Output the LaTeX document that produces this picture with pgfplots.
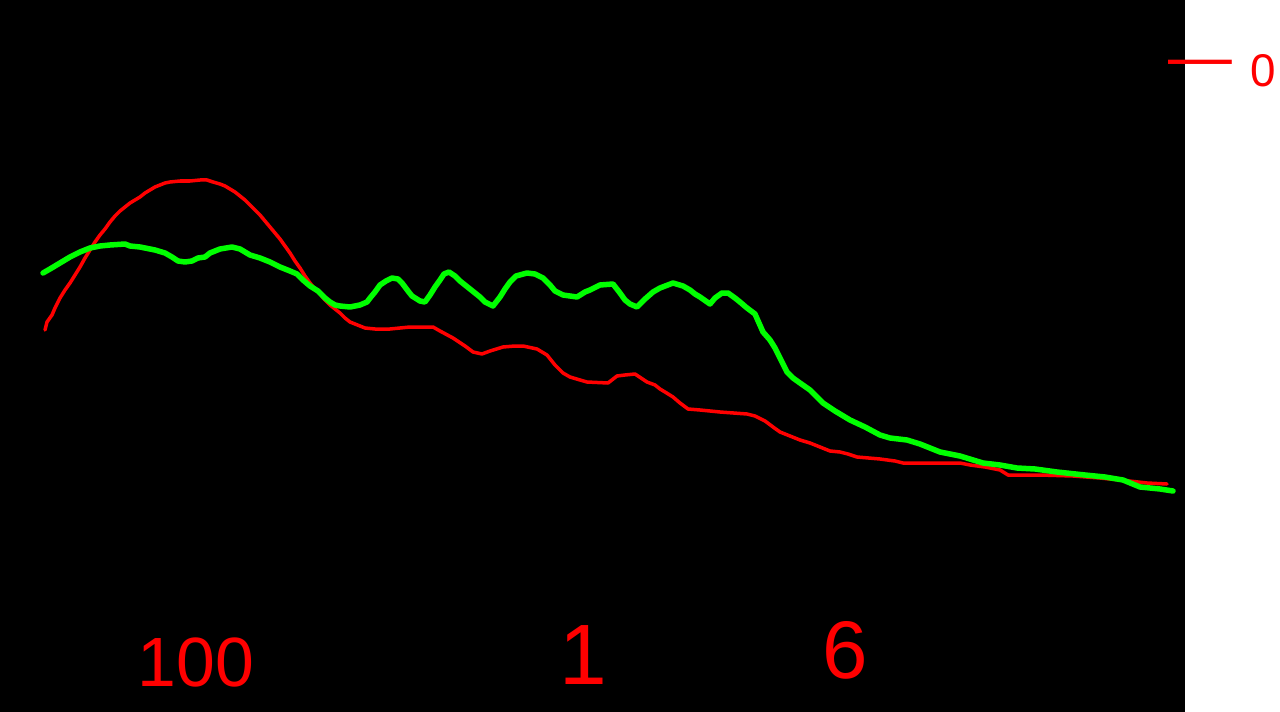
\documentclass[border=0pt]{standalone}
\usepackage{pgfplots}
\pgfplotsset{compat=1.18}
\usepackage{fontspec}
\setmainfont{Liberation Sans}
\definecolor{pen red}{RGB}{255,0,0}
\definecolor{pen green}{RGB}{0,255,0}
\begin{document}
\begin{tikzpicture}
\begin{axis}[width=1280bp,height=712bp,scale only axis,hide axis,
  xmin=0,xmax=1280,ymin=0,ymax=712,y dir=reverse]
% board
\addplot[fill=black,draw=none] coordinates {(0,0)(1185,0)(1185,712)(0,712)} -- cycle;
\addplot[fill=white,draw=none] coordinates {(1185,0)(1280,0)(1280,712)(1185,712)} -- cycle;
% red trace
\addplot[pen red,line width=3.5bp,line join=round,line cap=round] coordinates {
(45,330)(47,322)(52,315)(55,308)(60,298)(65,290)(70,283)(75,275)(80,267)(85,258)
(90,250)(95,242)(100,235)(105,229)(110,222)(115,216)(120,211)(125,207)(130,203)
(135,200)(140,197)(145,193)(150,190)(155,187)(160,185)(165,183)(170,182)(180,181)
(190,181)(200,180)(207,180)(213,182)(220,184)(225,186)(230,189)(235,192)(240,196)
(245,200)(250,205)(255,210)(260,215)(265,221)(270,227)(275,233)(280,239)(285,246)
(290,253)(295,261)(300,268)(305,276)(310,283)(315,289)(320,294)(325,300)(330,305)
(335,309)(340,313)(345,318)(350,322)(355,324)(360,326)(365,328)(375,329)(390,329)
(400,328)(410,327)(420,327)(433,327)(440,331)(453,338)(465,346)(473,352)(482,354)
(490,351)(503,347)(515,346)(523,346)(537,349)(547,355)(555,365)(563,373)(570,377)
(580,380)(587,382)(608,383)(617,376)(625,375)(635,374)(647,382)(655,385)(660,389)
(665,392)(673,397)(680,403)(688,409)(700,410)(720,412)(747,414)(755,416)(765,421)
(773,427)(780,432)(790,436)(800,440)(810,443)(820,447)(830,451)(840,452)(848,454)
(857,457)(880,459)(895,461)(903,463)(920,463)(940,463)(960,463)(970,465)(985,467)
(1000,470)(1008,475)(1040,475)(1073,476)(1100,478)(1120,480)(1147,483)(1167,484)};
% green trace
\addplot[pen green,line width=5.5bp,line join=round,line cap=round] coordinates {
(43,273)(50,269)(60,263)(70,257)(80,252)(90,248)(100,246)(110,245)(125,244)(130,246)
(140,247)(155,250)(165,253)(172,257)(178,261)(185,262)(192,261)(198,258)(205,257)
(210,253)(220,249)(232,247)(240,249)(245,252)(250,255)(260,258)(270,262)(280,267)
(290,271)(297,274)(303,280)(310,286)(318,291)(325,298)(330,302)(335,305)(340,306)
(350,307)(360,305)(367,302)(370,298)(375,292)(380,285)(386,281)(392,278)(398,279)
(402,283)(405,287)(408,291)(412,296)(420,301)(425,302)(430,295)(435,287)(440,280)
(444,274)(449,272)(455,276)(460,281)(470,289)(480,297)(485,302)(493,306)(500,297)
(505,289)(510,282)(516,276)(527,273)(535,274)(543,278)(550,285)(555,291)(563,295)
(577,297)(585,292)(590,290)(600,285)(613,284)(620,293)(625,300)(630,304)(637,307)
(645,299)(653,292)(660,288)(673,283)(683,286)(690,290)(695,294)(700,297)(710,304)
(715,298)(722,293)(728,293)(735,298)(740,302)(747,308)(755,314)(763,332)(770,340)
(775,348)(780,358)(787,372)(793,378)(800,383)(810,390)(823,403)(835,411)(850,420)
(865,427)(880,435)(890,438)(907,440)(920,444)(940,452)(960,456)(983,463)(1000,465)
(1017,468)(1035,469)(1057,472)(1085,475)(1105,477)(1123,480)(1140,487)(1160,489)
(1173,491)};
% scrawled numbers
\node[pen red,font=\fontsize{70}{70}\selectfont] at (axis cs:196,662) {100};
\node[pen red,font=\fontsize{86}{86}\selectfont] at (axis cs:583,655) {1};
\node[pen red,font=\fontsize{82}{82}\selectfont] at (axis cs:845,650) {6};
\node[pen red,font=\fontsize{64}{64}\selectfont] at (axis cs:1200,69) {—};
\node[pen red,font=\fontsize{46}{46}\selectfont] at (axis cs:1263,71) {0};
\end{axis}
\end{tikzpicture}
\end{document}
